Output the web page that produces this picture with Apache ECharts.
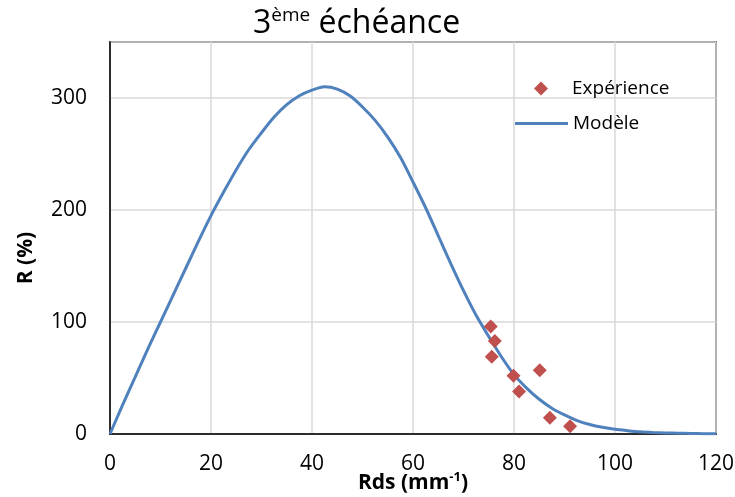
<!DOCTYPE html>
<html>
<head>
<meta charset="utf-8">
<script src="https://cdn.jsdelivr.net/npm/echarts@6/dist/echarts.min.js"></script>
<style>html,body{margin:0;padding:0;background:#fff}#c{width:735px;height:497px}</style>
</head>
<body>
<div id="c"></div>
<script>
// Model curve
var modelX = [0, 2.5, 5, 7.5, 10, 12.5, 15, 17.5, 20, 22.5, 25, 27.5, 30, 32.5, 35, 37.5, 40, 42.5, 45, 47.5, 50, 52.5, 55, 57.5, 60,
  62.5, 65, 67.5, 70, 72.5, 75, 77.5, 80, 82.5, 85, 87.5, 90, 92.5, 95, 97.5, 100, 102.5, 105, 107.5, 110, 112.5, 115, 117.5, 120];
var modelY = [0, 26, 51, 76, 100, 124, 148, 172, 195, 216, 236, 254, 269, 283, 294, 302, 307, 310, 308, 302, 292, 280, 265, 247, 225,
  202, 177, 152, 128, 106, 87, 69, 53, 41, 31, 23, 17, 12, 8.5, 6, 4.2, 3, 2, 1.4, 1, 0.7, 0.5, 0.3, 0.2];
// Experimental points
var expX = [75.4, 76.2, 75.6, 79.9, 85.1, 81.0, 87.1, 91.1];
var expY = [96, 83, 69, 52, 57, 38, 14.5, 7];
var xTicks = [0, 20, 40, 60, 80, 100, 120];
var yTicks = [0, 100, 200, 300];

var FONT = 'Open Sans';
var chart = echarts.init(document.getElementById('c'));
function zip(a, b) { return a.map(function (v, i) { return [v, b[i]]; }); }
chart.setOption({
  backgroundColor: '#fff',
  animation: false,
  textStyle: { fontFamily: FONT },
  title: {
    text: '{base|3}{sup|ème}{base| échéance}',
    left: 253,
    top: 3,
    padding: 0,
    textStyle: {
      fontFamily: FONT, fontSize: 32, fontWeight: 'normal', color: '#000',
      rich: {
        base: { fontFamily: FONT, fontSize: 32, color: '#000', lineHeight: 42 },
        sup: { fontFamily: FONT, fontSize: 19, color: '#000', verticalAlign: 'top', lineHeight: 22, padding: [3, 0, 0, 0] }
      }
    }
  },
  legend: [{
    orient: 'vertical',
    left: 534,
    top: 79,
    padding: 0,
    itemWidth: 14,
    itemHeight: 14,
    textStyle: { fontFamily: FONT, fontSize: 19, color: '#000', padding: [0, 0, 0, 19] },
    data: [{ name: 'Expérience', icon: 'diamond' }]
  }, {
    orient: 'vertical',
    left: 515,
    top: 114,
    padding: 0,
    itemWidth: 53,
    itemHeight: 3,
    textStyle: { fontFamily: FONT, fontSize: 19, color: '#000', padding: [0, 0, 0, 0] },
    data: [{ name: 'Modèle', icon: 'rect' }]
  }],
  grid: { left: 110, right: 19, top: 42, bottom: 63, show: true, borderColor: '#000', borderWidth: 1.5,
    containLabel: false, outerBoundsMode: 'none' },
  xAxis: {
    type: 'value', min: 0, max: 120, interval: 20,
    axisLine: { show: true, lineStyle: { color: '#000', width: 1.5 } },
    axisTick: { show: false },
    axisLabel: { fontFamily: FONT, fontSize: 21, color: '#000', margin: 20,
      formatter: function (v) { return xTicks.indexOf(v) >= 0 ? String(v) : ''; } },
    splitLine: { show: true, lineStyle: { color: '#D9D9D9', width: 1.5 } }
  },
  yAxis: {
    type: 'value', min: 0, max: 350, interval: 100,
    axisLine: { show: true, lineStyle: { color: '#000', width: 1.5 } },
    axisTick: { show: false },
    axisLabel: { fontFamily: FONT, fontSize: 21, color: '#000', margin: 23, showMaxLabel: false,
      formatter: function (v) { return yTicks.indexOf(v) >= 0 ? String(v) : ''; } },
    splitLine: { show: true, lineStyle: { color: '#D9D9D9', width: 1.5 } }
  },
  graphic: [{
    type: 'text',
    x: 26, y: 258,
    rotation: Math.PI / 2,
    style: { text: 'R (%)', fontFamily: FONT, fontSize: 21, fontWeight: 'bold', fill: '#000', align: 'center', verticalAlign: 'middle' }
  }, {
    type: 'text',
    x: 413, y: 483,
    style: {
      text: '{b|Rds (mm}{s|-1}{b|)}', align: 'center', verticalAlign: 'middle',
      rich: {
        b: { fontFamily: FONT, fontSize: 21, fontWeight: 'bold', fill: '#000', lineHeight: 26 },
        s: { fontFamily: FONT, fontSize: 13, fontWeight: 'bold', fill: '#000', verticalAlign: 'top', lineHeight: 15, padding: [1, 0, 0, 0] }
      }
    }
  }],
  series: [
    {
      name: 'Modèle', type: 'line', data: zip(modelX, modelY),
      smooth: 0.3, showSymbol: false, symbol: 'none',
      lineStyle: { color: '#4F81BD', width: 3 }, itemStyle: { color: '#4F81BD' }, z: 2
    },
    {
      name: 'Expérience', type: 'scatter', data: zip(expX, expY),
      symbol: 'diamond', symbolSize: 14,
      itemStyle: { color: '#C0504D', opacity: 1 }, z: 3
    }
  ]
});
</script>
</body>
</html>
